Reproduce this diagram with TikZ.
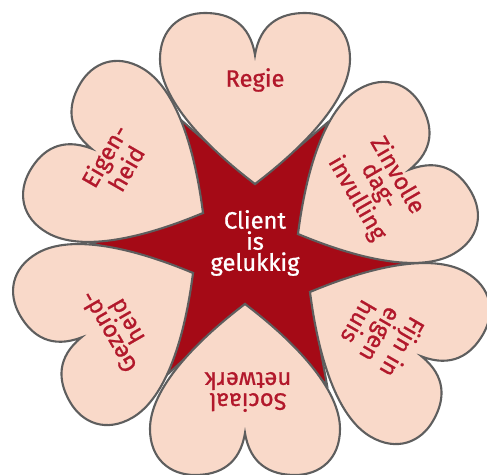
\documentclass[tikz,border=0pt]{standalone}
\usepackage{fontspec}
\setmainfont{Fira Sans}
\newfontfamily\hartfont{Fira Sans}[FakeBold=0.9]
\usepackage{tikz}

\definecolor{hartroze}{HTML}{F9D9C9}
\definecolor{sterrood}{HTML}{A50A16}
\definecolor{tekstrood}{HTML}{B2182B}
\definecolor{randgrijs}{HTML}{5E5E5E}

\tikzset{
  hartvorm/.style={fill=hartroze, draw=randgrijs, line width=1.2pt},
  hartlabel/.style={text=tekstrood, align=center, font=\hartfont\fontsize{13.5}{12}\selectfont},
  pics/hart/.style={code={
    \draw[hartvorm] (0,0) .. controls (-50,38) and (-95,85) .. (-95,125)
      .. controls (-95,155) and (-75,171) .. (-50,171)
      .. controls (-25,171) and (-5,160) .. (0,129)
      .. controls (5,160) and (25,171) .. (50,171)
      .. controls (75,171) and (95,155) .. (95,125)
      .. controls (95,85) and (50,38) .. (0,0) -- cycle;
  }}
}

\begin{document}
\begin{tikzpicture}[x=0.02cm, y=0.02cm]
    \useasboundingbox (0,0) rectangle (487,475);

    % Tips of the hearts (inner corners of the star)
    \coordinate (tRegie) at (255,291);
    \coordinate (tZinvolle) at (298,241);
    \coordinate (tFijn) at (310,183);
    \coordinate (tSociaal) at (245,171);
    \coordinate (tGezond) at (193,202);
    \coordinate (tEigen) at (203,262);

    % Outer points of the star
    \coordinate (O1) at (327,352);
    \coordinate (O2) at (181,355);
    \coordinate (O3) at (91,232);
    \coordinate (O4) at (168,101);
    \coordinate (O5) at (327,90);
    \coordinate (O6) at (406,211);

    \draw[fill=sterrood, draw=randgrijs, line width=1.2pt, line join=miter]
      (tRegie) -- (O1) -- (tZinvolle) -- (O6) -- (tFijn) -- (O5)
      -- (tSociaal) -- (O4) -- (tGezond) -- (O3) -- (tEigen) -- (O2) -- cycle;

    % Hearts
    \pic[rotate=60] at (tEigen) {hart};
    \pic[rotate=120] at (tGezond) {hart};
    \pic[rotate=180] at (tSociaal) {hart};
    \pic[rotate=-120] at (tFijn) {hart};
    \pic[rotate=-60] at (tZinvolle) {hart};
    \pic at (tRegie) {hart};

    % Labels
    \node[hartlabel] (regie) at (255,395) {Regie};
    \node[hartlabel, rotate=-60] (zinvolle) at (377,288) {Zinvolle\\dag-\\invulling};
    \node[hartlabel, rotate=-120] (fijn) at (381,140) {Fijn in\\eigen\\huis};
    \node[hartlabel, rotate=180] (sociaal) at (248,83) {Sociaal\\netwerk};
    \node[hartlabel, rotate=120] (gezond) at (117,148) {Gezond-\\heid};
    \node[hartlabel, rotate=60] (eigen) at (115,313) {Eigen-\\heid};
    \node[hartlabel, text=white] (client) at (255,232) {Client\\is\\gelukkig};

\end{tikzpicture}
\end{document}
